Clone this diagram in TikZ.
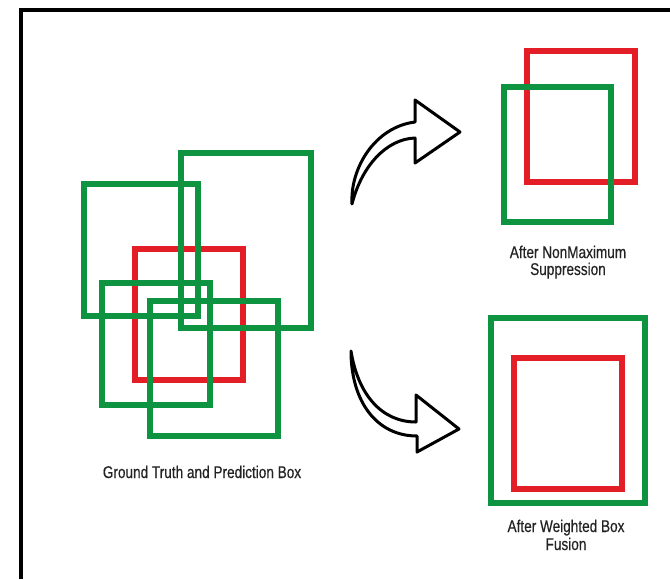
\documentclass[tikz,border=0pt]{standalone}
\usepackage{fontspec}
\setmainfont{Liberation Sans}[FakeStretch=0.8,FakeBold=0.4]
\definecolor{boxgreen}{RGB}{14,148,64}
\definecolor{boxred}{RGB}{228,30,38}
\definecolor{captext}{RGB}{35,35,35}
\begin{document}
\begin{tikzpicture}[x=1pt,y=-1pt,
  gbox/.style={draw=boxgreen,line width=6.5pt,line join=miter},
  rbox/.style={draw=boxred,line width=6.5pt,line join=miter},
  frameline/.style={draw=black,line width=4.5pt},
  bendarrow/.style={draw=black,fill=white,line width=3pt,line join=round},
  caption/.style={text=captext,align=center,anchor=base,inner sep=0pt,
    font={\fontsize{17}{19}\selectfont}}]
\useasboundingbox (0,0) rectangle (670,579);
\fill[white] (0,0) rectangle (670,579);

% outer frame (open at the right and bottom)
\draw[frameline] (21,579) -- (21,10) -- (670,10);

% ground truth box under the predicted boxes
\draw[rbox] (135,249) rectangle (243,380);
\draw[gbox] (84,184) rectangle (198,316);
\draw[gbox] (181,153) rectangle (311,328);
\draw[gbox] (102,283) rectangle (210,405);
\draw[gbox] (150,301) rectangle (278,436);
\node[caption] (gtcap) at (202,478) {Ground Truth and Prediction Box};

% result of non-maximum suppression
\draw[rbox] (527,51) rectangle (635,182);
\draw[gbox] (504,87) rectangle (611,222);
\node[caption] (nmscap1) at (568,258) {After NonMaximum};
\node[caption] (nmscap2) at (568,275) {Suppression};

% result of weighted box fusion
\draw[gbox] (491,318) rectangle (645,503);
\draw[rbox] (514,358) rectangle (622,489);
\node[caption] (wbfcap1) at (566,532) {After Weighted Box};
\node[caption] (wbfcap2) at (566,550) {Fusion};

% curved outline arrows
\draw[bendarrow] (352,204) .. controls (350,168) and (375,127) .. (415,122)
  -- (415,100) -- (460,132) -- (415,163) -- (415,138)
  .. controls (387,139) and (362,165) .. (352,204) -- cycle;
\draw[bendarrow] (351,351) .. controls (358,395) and (382,422) .. (416,422)
  -- (416,395) -- (459,429) -- (417,452) -- (417,436)
  .. controls (377,436) and (351,402) .. (351,351) -- cycle;
\end{tikzpicture}
\end{document}
